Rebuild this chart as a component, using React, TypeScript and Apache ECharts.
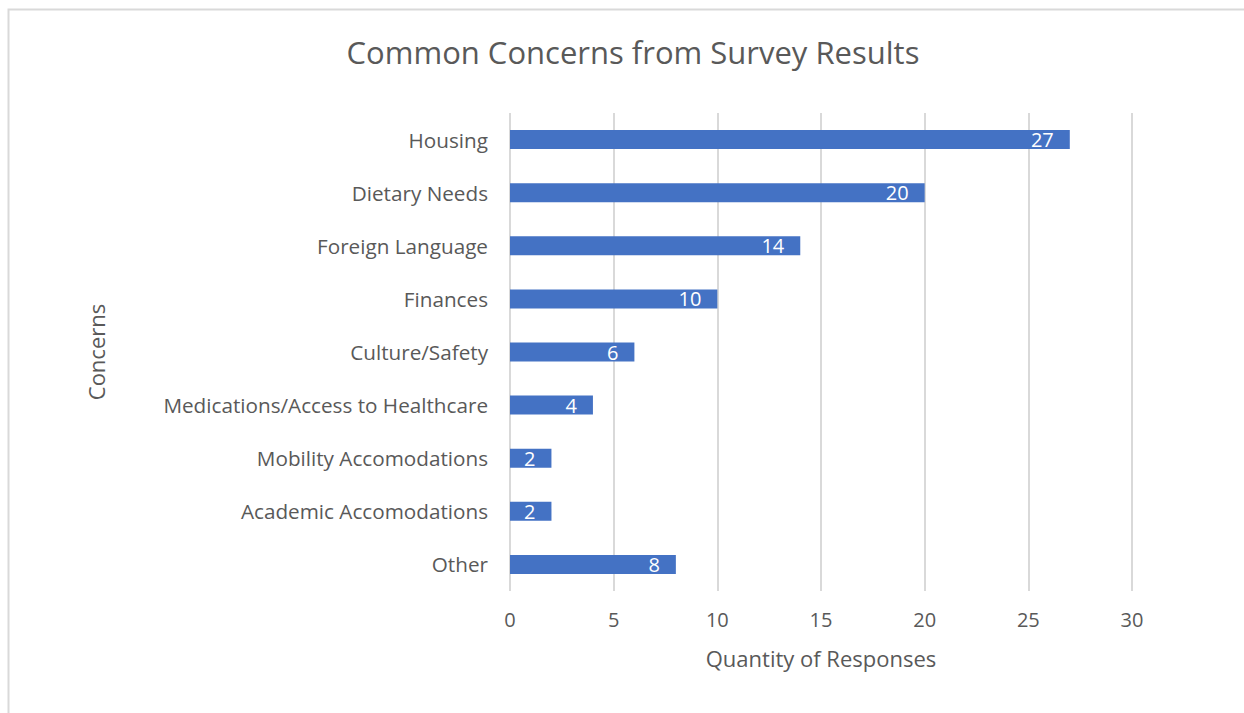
import React, { useEffect, useRef } from "react";
import * as echarts from "echarts";

const categories = [
  "Housing",
  "Dietary Needs",
  "Foreign Language",
  "Finances",
  "Culture/Safety",
  "Medications/Access to Healthcare",
  "Mobility Accomodations",
  "Academic Accomodations",
  "Other",
];
const responses = [27, 20, 14, 10, 6, 4, 2, 2, 8];
const xTicks = { min: 0, max: 30, interval: 5 };

const FONT = "'Open Sans', Lato, sans-serif";
const GRAY = "#595959";

export default function App() {
  const ref = useRef<HTMLDivElement>(null);
  useEffect(() => {
    if (!ref.current) return;
    const chart = echarts.init(ref.current, undefined, { renderer: "svg" });
    chart.setOption({
      animation: false,
      backgroundColor: "#ffffff",
      title: {
        text: "Common Concerns from Survey Results",
        top: 31,
        left: 628,
        textAlign: "center",
        textStyle: { fontFamily: FONT, fontSize: 31, fontWeight: "normal", color: GRAY },
      },
      graphic: [
        {
          type: "rect",
          shape: { x: 8.5, y: 9.5, width: 1400, height: 900 },
          style: { fill: "none", stroke: "#d9d9d9", lineWidth: 2 },
          silent: true,
        },
      ],
      grid: { left: 510, top: 113, width: 622, height: 478, containLabel: false },
      xAxis: {
        type: "value",
        min: xTicks.min,
        max: xTicks.max,
        interval: xTicks.interval,
        name: "Quantity of Responses",
        nameLocation: "middle",
        nameGap: 56,
        nameTextStyle: { fontFamily: FONT, fontSize: 22, color: GRAY, verticalAlign: "top" },
        axisLine: { show: false },
        axisTick: { show: false },
        axisLabel: { fontFamily: FONT, fontSize: 20, color: GRAY, margin: 18 },
        splitLine: { show: true, lineStyle: { color: "#d9d9d9", width: 2 } },
      },
      yAxis: {
        type: "category",
        data: categories,
        inverse: true,
        name: "Concerns",
        nameLocation: "middle",
        nameGap: 403,
        nameTextStyle: { fontFamily: FONT, fontSize: 22, color: GRAY },
        axisLine: { show: false },
        axisTick: { show: false },
        axisLabel: { fontFamily: FONT, fontSize: 20.7, color: GRAY, margin: 22 },
        splitLine: { show: false },
      },
      series: [
        {
          type: "bar",
          data: responses,
          barWidth: 19,
          itemStyle: { color: "#4472C4" },
          label: {
            show: true,
            position: "insideRight",
            distance: 16,
            color: "#ffffff",
            fontFamily: FONT,
            fontSize: 20,
          },
        },
      ],
    });
    return () => chart.dispose();
  }, []);
  return (
    <div
      ref={ref}
      style={{ position: "absolute", left: 0, top: 0, width: 1244, height: 713 }}
    />
  );
}
